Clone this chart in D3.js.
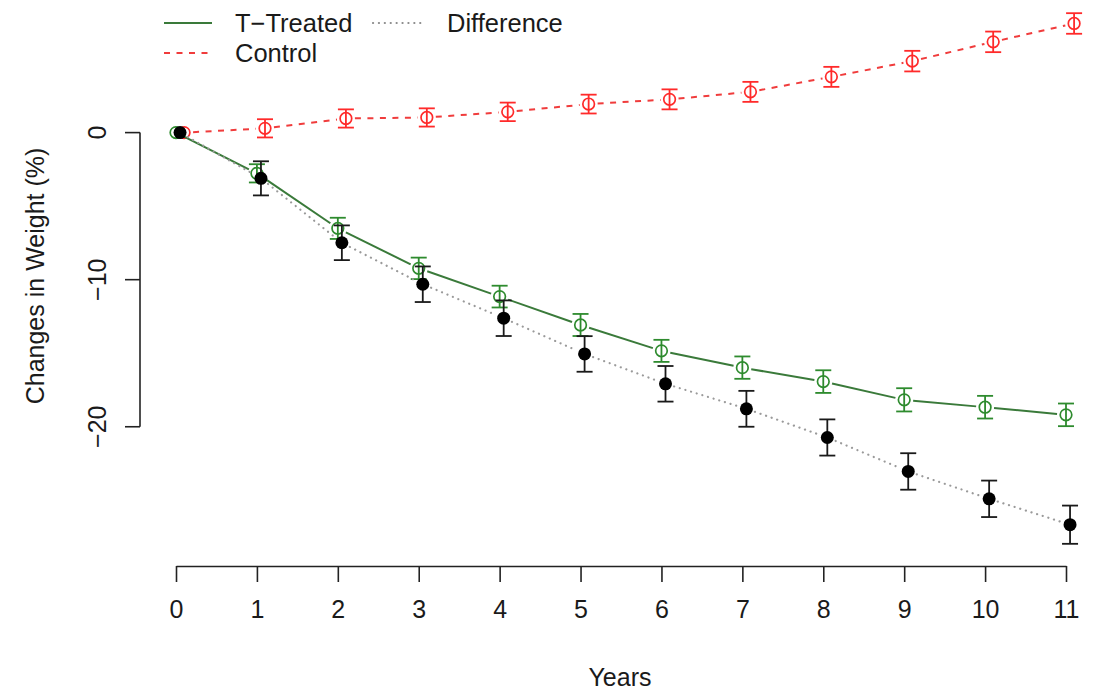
<!DOCTYPE html>
<html>
  <head>
    <meta charset="utf-8">
    <style>
      body { margin: 0; background: #fff; }
      text { font-family: "Liberation Sans", Arial, Helvetica, sans-serif; fill: #1a1a1a; }
      .axis text { font-size: 25px; }
      .axis line, .axis path { stroke: #222; stroke-width: 1.6; }
    </style>
    <script src="https://cdnjs.cloudflare.com/ajax/libs/d3/7.8.5/d3.min.js"></script>
  </head>
  <body>
    <script>
      // values
      var years = [0, 1, 2, 3, 4, 5, 6, 7, 8, 9, 10, 11];
      var treated = [0, -2.77, -6.51, -9.23, -11.15, -13.08, -14.84, -15.98, -16.93, -18.17, -18.67, -19.19];
      var treatedErr = [0, 0.62, 0.72, 0.73, 0.74, 0.75, 0.75, 0.76, 0.77, 0.79, 0.77, 0.77];
      var control = [0, 0.29, 0.96, 1.03, 1.41, 1.94, 2.26, 2.77, 3.79, 4.86, 6.17, 7.42];
      var controlErr = [0, 0.62, 0.62, 0.62, 0.63, 0.64, 0.68, 0.68, 0.68, 0.70, 0.70, 0.70];
      var difference = [0, -3.11, -7.49, -10.31, -12.62, -15.05, -17.08, -18.78, -20.73, -23.04, -24.9, -26.66];
      var differenceErr = [0, 1.16, 1.18, 1.21, 1.21, 1.21, 1.21, 1.22, 1.23, 1.24, 1.24, 1.30];
      var yTicks = [0, -10, -20];

      var svg = d3.select("body").append("svg")
        .attr("width", 1106)
        .attr("height", 690);

      var x = d3.scaleLinear().domain([0, 11]).range([176, 1066]);
      var y = d3.scaleLinear().domain([-29.4, 9.56]).range([565, -8]);

      // x axis
      var xAxis = svg.append("g")
        .attr("class", "axis")
        .attr("transform", "translate(0,566)")
        .call(d3.axisBottom(x).tickValues(years).tickSizeInner(16).tickSizeOuter(0).tickPadding(18));
      xAxis.selectAll("text").attr("dy", "0.71em");

      // y axis (line only across the ticks, labels turned)
      var yAxis = svg.append("g").attr("class", "axis");
      yAxis.append("line")
        .attr("x1", 140).attr("x2", 140)
        .attr("y1", y(-20)).attr("y2", y(0));
      yAxis.selectAll(".tk").data(yTicks).enter().append("line")
        .attr("x1", 125).attr("x2", 140)
        .attr("y1", function(d) { return y(d); })
        .attr("y2", function(d) { return y(d); });
      yAxis.selectAll(".lb").data(yTicks).enter().append("text")
        .attr("transform", function(d) { return "translate(106," + y(d) + ") rotate(-90)"; })
        .attr("text-anchor", "middle")
        .text(function(d) { return d < 0 ? "\u2212" + (-d) : d; });

      svg.append("text")
        .attr("x", 620).attr("y", 686)
        .attr("text-anchor", "middle")
        .style("font-size", "25px")
        .text("Years");
      svg.append("text")
        .attr("transform", "translate(44,276) rotate(-90)")
        .attr("text-anchor", "middle")
        .style("font-size", "25px")
        .text("Changes in Weight (%)");

      // a series: type="b" style line with gaps, error bars, points
      function series(vals, errs, offset, color, dash, lineColor, filled) {
        var pts = years.map(function(yr, i) {
          return { px: x(yr + offset), py: y(vals[i]), lo: y(vals[i] - errs[i]), hi: y(vals[i] + errs[i]), e: errs[i] };
        });
        var g = svg.append("g");
        var gap = 9;
        for (var i = 0; i < pts.length - 1; i++) {
          var a = pts[i], b = pts[i + 1];
          var dx = b.px - a.px, dy = b.py - a.py, len = Math.sqrt(dx * dx + dy * dy);
          var ux = dx / len, uy = dy / len;
          g.append("line")
            .attr("x1", a.px + ux * gap).attr("y1", a.py + uy * gap)
            .attr("x2", b.px - ux * gap).attr("y2", b.py - uy * gap)
            .attr("stroke", lineColor)
            .attr("stroke-width", filled ? 2.2 : 2)
            .attr("stroke-linecap", filled ? "round" : "butt")
            .attr("stroke-dasharray", dash);
        }
        var bars = g.selectAll(".bar").data(pts.filter(function(p) { return p.e > 0; })).enter().append("g")
          .attr("stroke", filled ? "#1a1a1a" : color)
          .attr("stroke-width", 1.8);
        bars.append("line")
          .attr("x1", function(p) { return p.px; }).attr("x2", function(p) { return p.px; })
          .attr("y1", function(p) { return p.lo; }).attr("y2", function(p) { return p.hi; });
        bars.append("line")
          .attr("x1", function(p) { return p.px - 8; }).attr("x2", function(p) { return p.px + 8; })
          .attr("y1", function(p) { return p.lo; }).attr("y2", function(p) { return p.lo; });
        bars.append("line")
          .attr("x1", function(p) { return p.px - 8; }).attr("x2", function(p) { return p.px + 8; })
          .attr("y1", function(p) { return p.hi; }).attr("y2", function(p) { return p.hi; });
        g.selectAll("circle").data(pts).enter().append("circle")
          .attr("cx", function(p) { return p.px; })
          .attr("cy", function(p) { return p.py; })
          .attr("r", filled ? 6.5 : 5.8)
          .attr("fill", filled ? "#000" : "none")
          .attr("stroke", color)
          .attr("stroke-width", filled ? 0 : 1.7);
      }

      series(control, controlErr, 0.1, "#ff2a2a", "6,6.5", "#f03c3c", false);
      series(treated, treatedErr, 0, "#2e8b2e", null, "#3a7a3a", false);
      series(difference, differenceErr, 0.05, "#000", "0.1,5.8", "#9a9a9a", true);

      // legend
      var legend = svg.append("g");
      var items = [
        { x: 164, y: 23, label: "T\u2212Treated", color: "#3a7a3a", dash: null, w: 2 },
        { x: 373, y: 23, label: "Difference", color: "#8a8a8a", dash: "0.1,5.8", w: 2.2, cap: "round" },
        { x: 164, y: 53, label: "Control", color: "#f03c3c", dash: "6,6.5", w: 2 }
      ];
      items.forEach(function(it) {
        legend.append("line")
          .attr("x1", it.x).attr("x2", it.x + 48)
          .attr("y1", it.y).attr("y2", it.y)
          .attr("stroke", it.color)
          .attr("stroke-width", it.w)
          .attr("stroke-linecap", it.cap || "butt")
          .attr("stroke-dasharray", it.dash);
        legend.append("text")
          .attr("x", it.x + (it.x < 200 ? 71 : 74)).attr("y", it.y + 9)
          .style("font-size", "25.5px")
          .text(it.label);
      });
    </script>
  </body>
</html>
